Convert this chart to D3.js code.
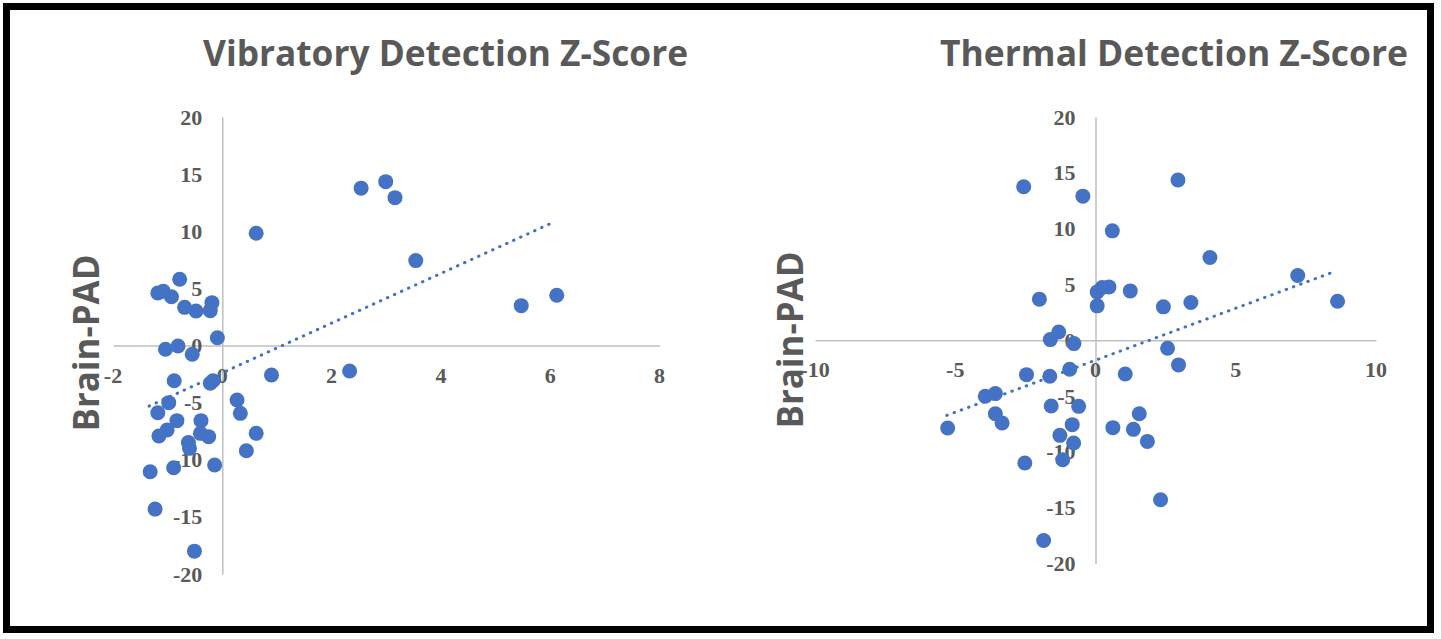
<!DOCTYPE html>
<html>
<head>
<meta charset="utf-8">
<script src="https://cdn.jsdelivr.net/npm/d3@7"></script>
<style>
  html, body { margin: 0; padding: 0; background: #ffffff; }
  svg { display: block; }
</style>
</head>
<body>
<svg id="chart" width="1441" height="639"></svg>
<script>
// ---------- DATA ----------
const vibX = [0.62, 2.54, 2.99, 3.16, -0.78, -1.18, -1.08, -0.93, -0.69, -0.48, -0.19, -0.22, -0.09,
  -1.04, -0.81, -0.55, -0.88, -0.17, -0.22, 0.90, 2.33, 0.27, 0.33, -0.98, -1.18, -0.83, -0.39,
  -1.01, -1.16, -0.40, -0.25, -0.62, -0.60, 0.62, 0.44, -0.14, -0.89, -1.32, -1.23, -0.51,
  3.54, 5.47, 6.12];
const vibY = [9.82, 13.77, 14.34, 12.94, 5.80, 4.60, 4.75, 4.27, 3.34, 3.02, 3.75, 3.05, 0.68,
  -0.33, -0.04, -0.77, -3.08, -3.08, -3.31, -2.58, -2.23, -4.77, -5.94, -5.00, -5.88, -6.58, -6.58,
  -7.40, -7.92, -7.69, -7.98, -8.50, -9.00, -7.69, -9.21, -10.46, -10.70, -11.05, -14.32, -18.00,
  7.43, 3.49, 4.40];
const vibTrend = [-2.39, 2.175];          // [intercept, slope]
const vibTrendX = [-1.34, 6.0];           // trendline x span
const vibXTicks = [-2, 0, 2, 4, 6, 8];

const thermX = [-2.56, -0.45, -2.00, 0.06, 0.24, 0.48, 0.06, -1.61, -1.31, -0.77, -5.27, -3.93,
  -3.57, -3.57, -3.33, -2.46, -1.63, -0.92, -1.58, -0.60, -0.83, -1.27, -0.78, -1.17, -2.52, -1.85,
  2.94, 0.60, 4.08, 7.21, 1.24, 2.42, 3.40, 8.63, 2.57, 2.96, 1.06, 0.62, 1.35, 1.56, 1.85, 2.32];
const thermY = [13.75, 12.91, 3.68, 4.33, 4.73, 4.78, 3.08, 0.06, 0.74, -0.30, -7.86, -5.02,
  -4.78, -6.58, -7.41, -3.08, -3.23, -2.60, -5.89, -5.92, -7.56, -8.52, -9.21, -10.70, -11.00, -17.94,
  14.35, 9.80, 7.41, 5.80, 4.42, 2.99, 3.38, 3.50, -0.72, -2.21, -3.02, -7.83, -7.98, -6.58, -9.06, -14.29];
const thermTrend = [-1.79, 0.932];
const thermTrendX = [-5.3, 8.57];
const thermXTicks = [-10, -5, 0, 5, 10];

const yTicks = [-20, -15, -10, -5, 0, 5, 10, 15, 20];
const titles = ["Vibratory Detection Z-Score", "Thermal Detection Z-Score"];
const yLabel = "Brain-PAD";

// ---------- DRAW ----------
const svg = d3.select("#chart");
const markerColor = "#4472C4";
const textColor = "#595959";
const axisColor = "#BFBFBF";

const panels = [
  { xs: vibX, ys: vibY, trend: vibTrend, trendX: vibTrendX, xTicks: vibXTicks, title: titles[0],
    xDomain: [-2, 8], xRange: [113, 659.5], yRange: [574, 117],
    titleX: 203, titleW: 485, labelX: 99, labelCY: 343 },
  { xs: thermX, ys: thermY, trend: thermTrend, trendX: thermTrendX, xTicks: thermXTicks, title: titles[1],
    xDomain: [-10, 10], xRange: [815, 1376], yRange: [563.5, 117],
    titleX: 940, titleW: 468, labelX: 803, labelCY: 340 }
];

panels.forEach(p => {
  const x = d3.scaleLinear().domain(p.xDomain).range(p.xRange);
  const y = d3.scaleLinear().domain([-20, 20]).range(p.yRange);
  const g = svg.append("g");

  // title
  g.append("text")
    .attr("x", p.titleX).attr("y", 66)
    .attr("textLength", p.titleW).attr("lengthAdjust", "spacingAndGlyphs")
    .attr("font-family", "'Open Sans', sans-serif").attr("font-weight", 700)
    .attr("font-size", 36).attr("fill", textColor)
    .text(p.title);

  // y-axis title
  g.append("text")
    .attr("transform", `translate(${p.labelX},${p.labelCY}) rotate(-90)`)
    .attr("text-anchor", "middle")
    .attr("textLength", 177).attr("lengthAdjust", "spacingAndGlyphs")
    .attr("font-family", "'Open Sans', sans-serif").attr("font-weight", 700)
    .attr("font-size", 35).attr("fill", textColor)
    .text(yLabel);

  // axis lines via d3 axes (ticks hidden)
  const xAxis = d3.axisBottom(x).tickValues(p.xTicks).tickSize(0).tickFormat("");
  const yAxis = d3.axisLeft(y).tickValues(yTicks).tickSize(0).tickFormat("");
  const gx = g.append("g").attr("transform", `translate(0,${y(0)})`).call(xAxis);
  const gy = g.append("g").attr("transform", `translate(${x(0)},0)`).call(yAxis);
  [gx, gy].forEach(a => a.select(".domain").attr("stroke", axisColor).attr("stroke-width", 1.5));

  // tick labels
  g.append("g").selectAll("text").data(p.xTicks).join("text")
    .attr("x", d => x(d)).attr("y", y(0) + 37)
    .attr("text-anchor", "middle")
    .attr("font-family", "'Liberation Serif', 'Times New Roman', serif").attr("font-weight", 700)
    .attr("font-size", 22).attr("fill", textColor)
    .text(d => d);
  g.append("g").selectAll("text").data(yTicks).join("text")
    .attr("x", x(0) - 20).attr("y", d => y(d) + 7.5)
    .attr("text-anchor", "end")
    .attr("font-family", "'Liberation Serif', 'Times New Roman', serif").attr("font-weight", 700)
    .attr("font-size", 22).attr("fill", textColor)
    .text(d => d);

  // points
  const pts = p.xs.map((v, i) => [v, p.ys[i]]);
  g.append("g").selectAll("circle").data(pts).join("circle")
    .attr("cx", d => x(d[0])).attr("cy", d => y(d[1]))
    .attr("r", 7.5).attr("fill", markerColor);

  // linear trendline
  const tl = p.trendX.map(v => [v, p.trend[0] + p.trend[1] * v]);
  g.append("path")
    .attr("d", d3.line().x(d => x(d[0])).y(d => y(d[1]))(tl))
    .attr("fill", "none").attr("stroke", markerColor)
    .attr("stroke-width", 3).attr("stroke-linecap", "round")
    .attr("stroke-dasharray", "0.5 7.2");
});

// outer frame
svg.append("rect")
  .attr("x", 6.5).attr("y", 6.5).attr("width", 1424).attr("height", 623)
  .attr("fill", "none").attr("stroke", "#000").attr("stroke-width", 7);
</script>
</body>
</html>
